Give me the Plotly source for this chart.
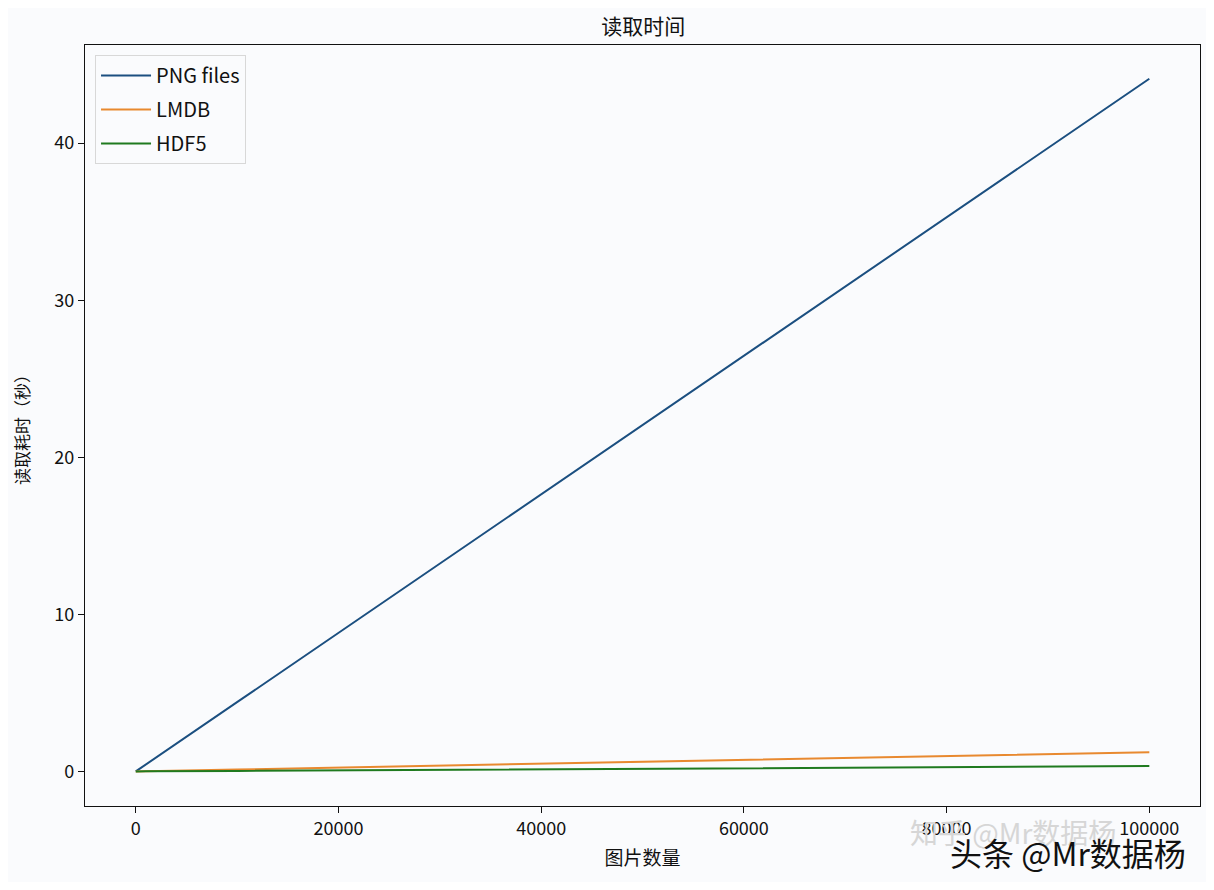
import plotly.graph_objects as go

# Data
image_counts = [10, 100, 1000, 10000, 100000]
png_times = [0.004, 0.044, 0.44, 4.41, 44.1]
lmdb_times = [0.001, 0.006, 0.013, 0.123, 1.23]
hdf5_times = [0.002, 0.004, 0.006, 0.035, 0.34]
series_names = ["PNG files", "LMDB", "HDF5"]
series_colors = ["#1b4f80", "#e8892f", "#1f7a1f"]

x_ticks = [0, 20000, 40000, 60000, 80000, 100000]
y_ticks = [0, 10, 20, 30, 40]

font_family = "Noto Sans CJK SC, Noto Sans, DejaVu Sans, sans-serif"

fig = go.Figure()
for name, ys, color in zip(series_names, [png_times, lmdb_times, hdf5_times], series_colors):
    fig.add_trace(go.Scatter(x=image_counts, y=ys, mode="lines", name=name, legendgroup=name,
                             line=dict(color=color, width=2)))

fig.update_layout(
    width=1198, height=874,
    paper_bgcolor="#fafbfd", plot_bgcolor="#fafbfd",
    margin=dict(l=77, r=6, t=37, b=76),
    font=dict(family=font_family, size=18, color="#111111"),
    title=dict(text="读取时间", x=0.5303, xanchor="center", y=0.979, yanchor="middle",
               font=dict(size=21, color="#111111")),
    showlegend=True,
    legend=dict(x=0.009, y=0.987, xanchor="left", yanchor="top",
                bgcolor="#fafbfd", bordercolor="#d8d8d8", borderwidth=1,
                font=dict(size=20), tracegroupgap=5, itemwidth=50),
    xaxis=dict(range=[-5000, 105000], tickvals=x_ticks, ticktext=[str(v) for v in x_ticks],
               showgrid=False, zeroline=False, showline=True, linecolor="#111111", linewidth=1.2,
               mirror=True, ticks="outside", ticklen=6, tickcolor="#111111",
               title=dict(text="图片数量", font=dict(size=19), standoff=12)),
    yaxis=dict(range=[-2.2, 46.25], tickvals=y_ticks, ticktext=[str(v) for v in y_ticks],
               showgrid=False, zeroline=False, showline=True, linecolor="#111111", linewidth=1.2,
               mirror=True, ticks="outside", ticklen=6, tickcolor="#111111",
               title=dict(text="读取耗时（秒）", font=dict(size=17), standoff=20)),
)

# watermarks
fig.add_annotation(text="知乎 @Mr数据杨", xref="paper", yref="paper", x=0.738, y=-0.034,
                   xanchor="left", yanchor="middle", showarrow=False,
                   font=dict(size=28, color="#d6d6d6", family=font_family))
fig.add_annotation(text="头条 @Mr数据杨", xref="paper", yref="paper", x=0.989, y=-0.0604,
                   xanchor="right", yanchor="middle", showarrow=False,
                   font=dict(size=32, color="#111111", family=font_family))

fig.write_html("out.html")
